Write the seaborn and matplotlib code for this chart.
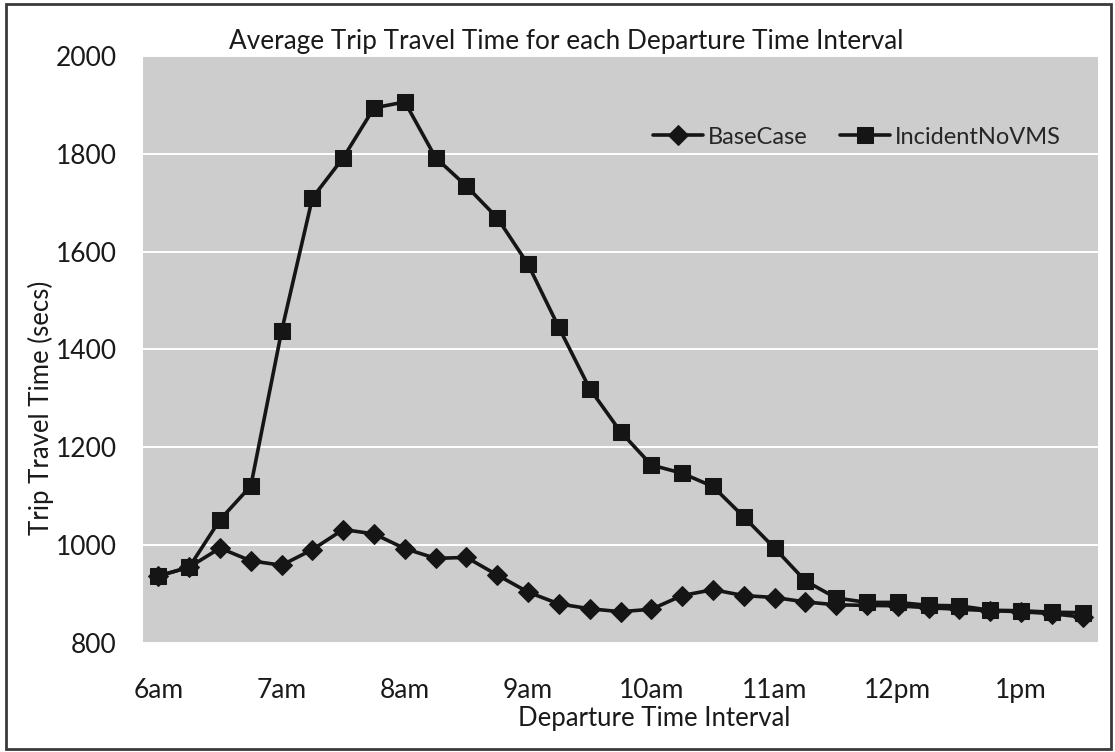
import pandas as pd
import matplotlib.pyplot as plt
import seaborn as sns
from matplotlib.patches import Rectangle

# data: one point per 15 min, 6:00 .. 13:30
slot = list(range(31))
base_case = [937, 955, 994, 968, 959, 991, 1032, 1023, 993, 973, 975, 939, 904, 880,
             870, 864, 869, 897, 909, 897, 893, 884, 878, 877, 876, 872, 869, 866, 864, 860, 853]
incident_no_vms = [937, 955, 1052, 1121, 1438, 1710, 1792, 1894, 1906, 1792, 1734, 1669, 1574, 1445,
                   1320, 1232, 1164, 1147, 1120, 1058, 994, 927, 892, 883, 883, 877, 876, 867, 866, 863, 862]
tick_slots = [0, 4, 8, 12, 16, 20, 24, 28]
tick_labels = ["6am", "7am", "8am", "9am", "10am", "11am", "12pm", "1pm"]
series_names = ["BaseCase", "IncidentNoVMS"]

df = pd.DataFrame({
    "slot": slot * 2,
    "secs": base_case + incident_no_vms,
    "series": [series_names[0]] * len(slot) + [series_names[1]] * len(slot),
})

sns.set_style("white")
plt.rcParams['font.family'] = ['Lato', 'DejaVu Sans']

fig = plt.figure(figsize=(11.15, 7.52), dpi=100, facecolor='white')
ax = fig.add_axes([143 / 1115, 1 - 643 / 752, 955 / 1115, 587 / 752])
ax.set_facecolor('#cdcdcd')

sns.lineplot(data=df, x="slot", y="secs", hue="series", style="series",
             hue_order=series_names, style_order=series_names,
             palette={"BaseCase": "#151515", "IncidentNoVMS": "#151515"},
             markers={"BaseCase": "D", "IncidentNoVMS": "s"}, dashes=False,
             markersize=11.5, linewidth=2.6, markeredgecolor='#151515', ax=ax)

# diamonds a bit smaller than the squares
for line in ax.lines:
    if line.get_marker() == 'D':
        line.set_markersize(10)

ax.set_xlim(-0.5, 30.5)
ax.set_ylim(800, 2000)
ax.set_yticks([800, 1000, 1200, 1400, 1600, 1800, 2000])
ax.set_xticks(tick_slots)
ax.set_xticklabels(tick_labels)
ax.tick_params(axis='both', length=0, labelsize=19, colors='#1a1a1a')
ax.tick_params(axis='y', pad=19)
ax.tick_params(axis='x', pad=25)
ax.grid(axis='y', color='white', linewidth=1.4)
ax.set_axisbelow(True)
for s in ax.spines.values():
    s.set_visible(False)

ax.set_xlabel("Departure Time Interval", fontsize=18.5, color='#1a1a1a')
ax.xaxis.set_label_coords((654 - 143) / 955, -(706 - 643) / 587)
ax.set_ylabel("Trip Travel Time (secs)", fontsize=18.5, color='#1a1a1a')
ax.yaxis.set_label_coords(-(143 - 54) / 955, (643 - 408) / 587)

handles, labels = ax.get_legend_handles_labels()
ax.legend(handles, labels, ncol=2, frameon=False, fontsize=17, loc='center right',
          bbox_to_anchor=((1070 - 143) / 955, (643 - 137) / 587),
          handlelength=2.1, handletextpad=0.2, columnspacing=1.4, borderaxespad=0)

fig.text(566 / 1115, 1 - 42 / 752, "Average Trip Travel Time for each Departure Time Interval",
         ha='center', va='center', fontsize=18.8, color='#1a1a1a')

# frame round the whole chart
fig.patches.append(Rectangle((6 / 1115, 3 / 752), 1105 / 1115, 745 / 752, transform=fig.transFigure,
                             fill=False, edgecolor='#3a3a3a', linewidth=2))

fig.savefig("out.png", dpi=100)
